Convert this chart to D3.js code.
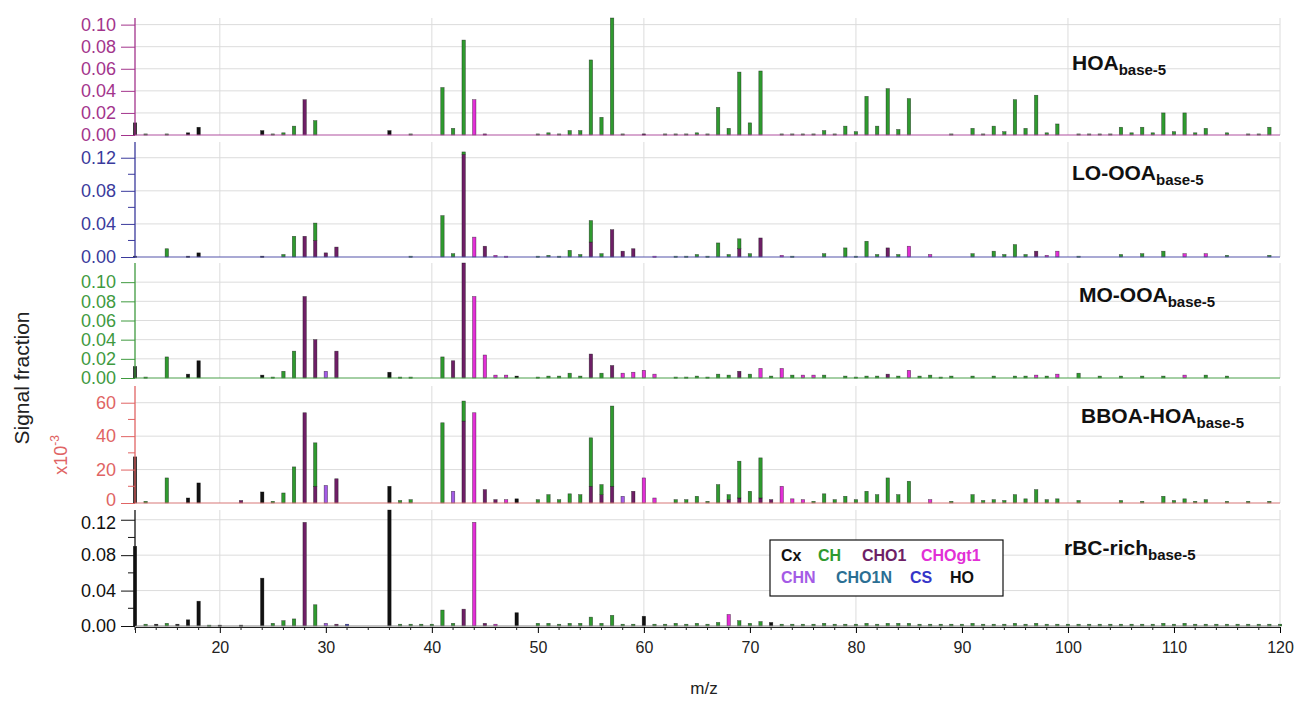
<!DOCTYPE html>
<html><head><meta charset="utf-8">
<script src="https://cdn.jsdelivr.net/npm/d3@7"></script>
<style>body{margin:0;background:#fff}svg{display:block;font-family:"Liberation Sans",Arial,sans-serif}</style>
</head><body><svg id="c" width="1301" height="702"></svg>
<script>
// ---- data: [m/z, family, value] ----
const HOA = [[12,"Cx",0.011],[13,"CH",0.001],[15,"CH",0.001],[17,"HO",0.002],[18,"HO",0.007],[24,"Cx",0.004],[25,"CH",0.001],[26,"CH",0.002],[27,"CH",0.008],[28,"CHO1",0.032],[29,"CH",0.013],[36,"Cx",0.004],[38,"CH",0.001],[41,"CH",0.043],[42,"CH",0.006],[43,"CH",0.086],[44,"CHOgt1",0.032],[45,"CHO1",0.001],[50,"CH",0.001],[51,"CH",0.002],[52,"CH",0.001],[53,"CH",0.004],[54,"CH",0.004],[55,"CH",0.068],[56,"CH",0.016],[57,"CH",0.106],[58,"CH",0.001],[60,"Cx",0.001],[62,"CH",0.001],[63,"CH",0.001],[64,"CH",0.001],[65,"CH",0.002],[66,"CH",0.001],[67,"CH",0.025],[68,"CH",0.006],[69,"CH",0.057],[70,"CH",0.011],[71,"CH",0.058],[73,"CH",0.001],[74,"CH",0.001],[75,"CH",0.001],[76,"CH",0.001],[77,"CH",0.004],[78,"CH",0.001],[79,"CH",0.008],[80,"CH",0.003],[81,"CH",0.035],[82,"CH",0.008],[83,"CH",0.042],[84,"CH",0.005],[85,"CH",0.033],[89,"CH",0.001],[91,"CH",0.006],[92,"CH",0.001],[93,"CH",0.008],[94,"CH",0.003],[95,"CH",0.032],[96,"CH",0.006],[97,"CH",0.036],[98,"CH",0.002],[99,"CH",0.010],[101,"CH",0.001],[102,"CH",0.001],[103,"CH",0.001],[104,"CH",0.001],[105,"CH",0.007],[106,"CH",0.002],[107,"CH",0.007],[108,"CH",0.002],[109,"CH",0.020],[110,"CH",0.003],[111,"CH",0.020],[112,"CH",0.002],[113,"CH",0.006],[115,"CH",0.002],[117,"CH",0.001],[118,"CH",0.001],[119,"CH",0.007]];

const LOOOA = [[12,"Cx",0.001],[15,"CH",0.010],[17,"HO",0.001],[18,"HO",0.005],[24,"Cx",0.001],[26,"CH",0.003],[27,"CH",0.025],[28,"CHO1",0.025],[29,"CHO1",0.020],[29,"CH",0.021],[30,"CHO1",0.005],[31,"CHO1",0.012],[38,"CH",0.001],[41,"CH",0.050],[42,"CH",0.004],[43,"CHO1",0.124],[43,"CH",0.003],[44,"CHOgt1",0.024],[45,"CHO1",0.013],[46,"CHOgt1",0.002],[47,"CHOgt1",0.001],[50,"CH",0.001],[51,"CH",0.002],[52,"CH",0.001],[53,"CH",0.008],[54,"CH",0.003],[55,"CHO1",0.018],[55,"CH",0.026],[56,"CH",0.004],[57,"CHO1",0.033],[58,"CHO1",0.007],[59,"CHO1",0.010],[61,"CHOgt1",0.001],[63,"CH",0.001],[64,"CH",0.001],[65,"CH",0.003],[66,"CH",0.001],[67,"CH",0.017],[68,"CH",0.003],[69,"CHO1",0.010],[69,"CH",0.012],[70,"CH",0.004],[71,"CHO1",0.023],[73,"CHOgt1",0.002],[74,"CH",0.001],[77,"CH",0.004],[79,"CH",0.011],[80,"CH",0.001],[81,"CH",0.019],[82,"CH",0.003],[83,"CHO1",0.011],[84,"CH",0.003],[85,"CHOgt1",0.013],[87,"CHOgt1",0.003],[91,"CH",0.004],[93,"CH",0.007],[94,"CH",0.003],[95,"CH",0.015],[96,"CH",0.003],[97,"CHO1",0.007],[98,"CHOgt1",0.002],[99,"CHOgt1",0.007],[101,"CH",0.001],[105,"CH",0.003],[107,"CH",0.004],[109,"CH",0.007],[111,"CHOgt1",0.004],[113,"CHOgt1",0.004],[115,"CH",0.002],[119,"CH",0.002]];

const MOOOA = [[12,"Cx",0.012],[13,"CH",0.001],[15,"CH",0.022],[17,"HO",0.004],[18,"HO",0.018],[24,"Cx",0.003],[25,"CH",0.001],[26,"CH",0.007],[27,"CH",0.028],[28,"CHO1",0.085],[29,"CHO1",0.040],[30,"CHN",0.007],[31,"CHO1",0.028],[36,"Cx",0.006],[37,"CH",0.001],[38,"CH",0.001],[41,"CH",0.022],[42,"CHO1",0.018],[43,"CHO1",0.120],[44,"CHOgt1",0.085],[45,"CHOgt1",0.024],[46,"CHOgt1",0.003],[47,"CHOgt1",0.003],[48,"Cx",0.002],[50,"CH",0.001],[51,"CH",0.002],[52,"CH",0.002],[53,"CH",0.005],[54,"CH",0.002],[55,"CHO1",0.025],[56,"CH",0.005],[57,"CHO1",0.013],[58,"CHOgt1",0.005],[59,"CHOgt1",0.006],[60,"CHOgt1",0.008],[61,"CHOgt1",0.004],[63,"CH",0.001],[64,"CH",0.001],[65,"CH",0.002],[66,"CH",0.001],[67,"CH",0.004],[68,"CH",0.003],[69,"CHO1",0.007],[70,"CH",0.004],[71,"CHOgt1",0.010],[72,"CH",0.002],[73,"CHOgt1",0.010],[74,"CH",0.003],[75,"CHOgt1",0.003],[76,"CHOgt1",0.003],[77,"CH",0.003],[79,"CH",0.002],[80,"CH",0.001],[81,"CH",0.002],[82,"CH",0.002],[83,"CHO1",0.004],[84,"CH",0.002],[85,"CHOgt1",0.008],[86,"CH",0.002],[87,"CH",0.003],[88,"CH",0.001],[89,"CH",0.002],[91,"CH",0.002],[93,"CH",0.002],[95,"CH",0.002],[96,"CH",0.002],[97,"CHOgt1",0.003],[98,"CH",0.002],[99,"CHOgt1",0.004],[101,"CH",0.005],[103,"CH",0.002],[105,"CH",0.002],[107,"CH",0.002],[109,"CH",0.002],[111,"CHOgt1",0.003],[113,"CH",0.003],[115,"CH",0.002]];

// BBOA-HOA values in units of 1e-3
const BBOAHOA = [[12,"Cx",27.6],[13,"CH",1],[15,"CH",15],[17,"HO",3],[18,"HO",12],[22,"CHO1",1.5],[24,"Cx",6.6],[25,"CH",1],[26,"CH",6],[27,"CH",21.6],[28,"CHO1",54],[29,"CHO1",10],[29,"CH",26],[30,"CHN",10.5],[31,"CHO1",14.5],[36,"Cx",10],[37,"CH",1.5],[38,"CH",2],[41,"CH",48],[42,"CHN",7],[43,"CHO1",49],[43,"CH",12],[44,"CHOgt1",54],[45,"CHO1",8],[46,"CHO1",2],[47,"CHOgt1",2],[48,"Cx",2.5],[50,"CH",2],[51,"CH",5],[52,"CH",2],[53,"CH",5.5],[54,"CH",5],[55,"CHO1",10],[55,"CH",29],[56,"CHO1",5],[56,"CH",6],[57,"CHO1",10],[57,"CH",48],[58,"CHN",4],[59,"CHO1",7],[60,"CHOgt1",15],[61,"CHOgt1",3],[63,"CH",2],[64,"CH",2],[65,"CH",4],[66,"CH",1],[67,"CH",11],[68,"CHO1",2],[68,"CH",3],[69,"CHO1",3],[69,"CH",22],[70,"CH",7],[71,"CHO1",3],[71,"CH",24],[72,"CHO1",2],[73,"CHOgt1",10],[74,"CHOgt1",2.5],[75,"CHOgt1",2],[76,"CH",1],[77,"CH",5.5],[78,"CH",2],[79,"CH",4],[80,"CH",2],[81,"CH",7],[82,"CH",5],[83,"CH",15],[84,"CH",5],[85,"CH",13],[87,"CHOgt1",2],[89,"CH",1],[91,"CH",5],[92,"CH",1.5],[93,"CH",2],[94,"CH",1.5],[95,"CH",5],[96,"CH",2.5],[97,"CH",8],[98,"CH",2],[99,"CH",2.5],[101,"CH",1.5],[105,"CH",1.5],[107,"CH",1],[109,"CH",4],[110,"CH",1.5],[111,"CH",2.5],[112,"CH",1],[113,"CH",2],[115,"CH",1],[117,"CH",1],[119,"CH",1]];

const RBC = [[12,"Cx",0.090],[13,"CH",0.002],[14,"Cx",0.002],[15,"CH",0.003],[16,"HO",0.002],[17,"HO",0.007],[18,"HO",0.028],[19,"CH",0.001],[20,"HO",0.001],[22,"Cx",0.001],[24,"Cx",0.054],[25,"CH",0.003],[26,"CH",0.006],[27,"CH",0.008],[28,"CHO1",0.117],[29,"CH",0.024],[30,"CHN",0.003],[31,"CHO1",0.002],[32,"CS",0.002],[36,"Cx",0.131],[37,"CH",0.002],[38,"CH",0.002],[39,"CH",0.002],[40,"CH",0.002],[41,"CH",0.018],[42,"CH",0.003],[43,"CHO1",0.019],[44,"CHOgt1",0.117],[45,"CHO1",0.003],[46,"CHOgt1",0.002],[48,"Cx",0.015],[50,"CH",0.003],[51,"CH",0.003],[52,"CH",0.002],[53,"CH",0.003],[54,"CH",0.003],[55,"CH",0.010],[56,"CH",0.003],[57,"CH",0.012],[58,"CH",0.002],[59,"CH",0.002],[60,"Cx",0.011],[61,"CH",0.002],[62,"CH",0.002],[63,"CH",0.003],[64,"CH",0.002],[65,"CH",0.003],[66,"CH",0.002],[67,"CH",0.004],[68,"CHOgt1",0.013],[69,"CH",0.006],[70,"CH",0.003],[71,"CH",0.005],[72,"Cx",0.004],[73,"CH",0.002],[74,"CH",0.002],[75,"CH",0.002],[76,"CH",0.002],[77,"CH",0.003],[78,"CH",0.002],[79,"CH",0.002],[80,"CH",0.002],[81,"CH",0.003],[82,"CH",0.002],[83,"CH",0.003],[84,"CH",0.003],[85,"CH",0.003],[86,"CH",0.002],[87,"CH",0.002],[88,"CH",0.002],[89,"CH",0.002],[90,"CH",0.002],[91,"CH",0.003],[92,"CH",0.002],[93,"CH",0.002],[94,"CH",0.002],[95,"CH",0.003],[96,"CH",0.002],[97,"CH",0.003],[98,"CH",0.002],[99,"CH",0.002],[100,"CH",0.002],[101,"CH",0.002],[102,"CH",0.002],[103,"CH",0.002],[104,"CH",0.002],[105,"CH",0.002],[106,"CH",0.002],[107,"CH",0.002],[108,"CH",0.002],[109,"CH",0.003],[110,"CH",0.002],[111,"CH",0.003],[112,"CH",0.002],[113,"CH",0.002],[114,"CH",0.002],[115,"CH",0.002],[116,"CH",0.002],[117,"CH",0.002],[118,"CH",0.002],[119,"CH",0.002],[120,"CH",0.002]];

const families = ["Cx","HO","CHO1","CHOgt1","CHN","CHO1N","CS","CH"];
const familyColors = {Cx:"#111111",CH:"#2f9a2f",CHO1:"#6e1f66",CHOgt1:"#e22fd6",CHN:"#a45be6",CHO1N:"#2b6f93",CS:"#3535c8",HO:"#111111"};
const legendRows = [["Cx","CH","CHO1","CHOgt1"],["CHN","CHO1N","CS","HO"]];
const xTickValues = [20,30,40,50,60,70,80,90,100,110,120];

const panels = [
  {data:HOA, name:"HOA", top:18, bottom:135, max:0.106, major:[0,0.02,0.04,0.06,0.08,0.10], minor:[], fmt:".2f", color:"#a3348c", base:"#b050a0", lx:1072, ly:70, nudgeBottom:0, nudgeTop:0},
  {data:LOOOA, name:"LO-OOA", top:142, bottom:257, max:0.139, major:[0,0.04,0.08,0.12], minor:[0.02,0.06,0.10], fmt:".2f", color:"#3a3a9c", base:"#5555aa", lx:1072, ly:180, nudgeBottom:0, nudgeTop:0},
  {data:MOOOA, name:"MO-OOA", top:263, bottom:378, max:0.12, major:[0,0.02,0.04,0.06,0.08,0.10], minor:[], fmt:".2f", color:"#3f9a3f", base:"#4aa04a", lx:1079, ly:302, nudgeBottom:0, nudgeTop:0},
  {data:BBOAHOA, name:"BBOA-HOA", top:386, bottom:503, max:70, major:[0,20,40,60], minor:[10,30,50], fmt:".0f", color:"#e06464", base:"#d87878", lx:1081, ly:423, nudgeBottom:-3, nudgeTop:0},
  {data:RBC, name:"rBC-rich", top:510, bottom:626, max:0.131, major:[0,0.04,0.08,0.12], minor:[0.02,0.06,0.10], fmt:".2f", color:"#111111", base:"#888888", lx:1064, ly:555, nudgeBottom:0, nudgeTop:3}
];

const svg = d3.select("#c");
const x = d3.scaleLinear().domain([12,120]).range([135,1280]);
const barW = 3.4;
const gridX = [20,40,60,80,100,120];

panels.forEach((p,i)=>{
  const y = d3.scaleLinear().domain([0,p.max]).range([p.bottom,p.top]);
  const g = svg.append("g");
  g.selectAll("line.hg").data(p.major.filter(v=>v>0)).join("line")
    .attr("x1",x(12)).attr("x2",x(120)).attr("y1",d=>y(d)).attr("y2",d=>y(d))
    .attr("stroke","#dcdcdc").attr("stroke-width",1);
  g.selectAll("line.vg").data(gridX).join("line")
    .attr("x1",d=>x(d)).attr("x2",d=>x(d)).attr("y1",p.top).attr("y2",p.bottom)
    .attr("stroke","#dcdcdc").attr("stroke-width",1);
  const byMz = d3.group(p.data, d=>d[0]);
  const segs = [];
  byMz.forEach((arr,mz)=>{
    let acc = 0;
    families.forEach(f=>{
      arr.filter(d=>d[1]===f).forEach(d=>{
        segs.push({mz, fam:f, y0:acc, y1:acc+d[2]}); acc += d[2];
      });
    });
  });
  g.selectAll("rect.bar").data(segs).join("rect")
    .attr("x",d=>x(d.mz)-barW/2).attr("width",barW)
    .attr("y",d=>y(d.y1)).attr("height",d=>Math.max(1.2,y(d.y0)-y(d.y1)))
    .attr("fill",d=>familyColors[d.fam])
    .attr("stroke","rgba(0,0,0,0.55)").attr("stroke-width",0.6);
  g.append("line").attr("x1",x(12)).attr("x2",x(120)).attr("y1",y(0)).attr("y2",y(0))
    .attr("stroke",p.base).attr("stroke-width",1.2);
  const ax = d3.axisLeft(y).tickValues(p.major).tickFormat(d3.format(p.fmt)).tickSize(14).tickPadding(5);
  const ag = g.append("g").attr("transform",`translate(${x(12)},0)`).call(ax);
  ag.select(".domain").attr("stroke",p.color).attr("stroke-width",1.3).attr("d",`M0,${y(0)}V${p.top}`);
  ag.selectAll(".tick line").attr("stroke",p.color);
  const lastV = p.major[p.major.length-1];
  ag.selectAll(".tick text").attr("fill",p.color).attr("font-size",18).attr("font-family","Liberation Sans, Arial, sans-serif")
    .attr("transform",d=> d===0 ? `translate(0,${p.nudgeBottom})` : (d===lastV ? `translate(0,${p.nudgeTop})` : null));
  if(p.minor.length){
    g.selectAll("line.mt").data(p.minor).join("line")
      .attr("x1",x(12)-7).attr("x2",x(12)).attr("y1",d=>y(d)).attr("y2",d=>y(d))
      .attr("stroke",p.color).attr("stroke-width",1);
  }
  const t = g.append("text").attr("x",p.lx).attr("y",p.ly).attr("font-weight","bold").attr("font-size",21).attr("fill","#111");
  t.append("tspan").text(p.name);
  t.append("tspan").attr("dy",5).attr("font-size",15).text("base-5");
});

const xl = svg.append("text").attr("transform","translate(67,455) rotate(-90)").attr("text-anchor","middle")
  .attr("fill","#e06464").attr("font-size",18);
xl.append("tspan").text("x10");
xl.append("tspan").attr("dy",-8).attr("font-size",12).text("-3");

const xa = d3.axisBottom(x).tickValues(xTickValues).tickFormat(d3.format("d")).tickSize(6).tickPadding(9);
const xg = svg.append("g").attr("transform","translate(0,627)").call(xa);
xg.select(".domain").attr("stroke","#222");
xg.selectAll(".tick text").attr("font-size",16).attr("fill","#222");
svg.append("g").selectAll("line").data(d3.range(12,121,2).filter(v=>v%10!==0)).join("line")
  .attr("x1",d=>x(d)).attr("x2",d=>x(d)).attr("y1",627).attr("y2",630).attr("stroke","#222");
svg.append("text").attr("x",704).attr("y",694).attr("text-anchor","middle").attr("font-size",17).attr("fill","#222").text("m/z");

svg.append("text").attr("transform","translate(29,378) rotate(-90)").attr("text-anchor","middle")
  .attr("font-size",21).attr("fill","#222").text("Signal fraction");

const lg = svg.append("g");
lg.append("rect").attr("x",770).attr("y",540).attr("width",233).attr("height",56).attr("fill","#fff").attr("stroke","#111").attr("stroke-width",1.2);
const legX = [[781,818,862,921],[781,836,910,950]];
legendRows.forEach((row,ri)=>{
  lg.selectAll(null).data(row).join("text")
    .attr("x",(d,ci)=>legX[ri][ci]).attr("y",561+ri*22)
    .attr("font-size",16).attr("font-weight","bold")
    .attr("fill",d=>familyColors[d]).text(d=>d);
});
</script></body></html>
